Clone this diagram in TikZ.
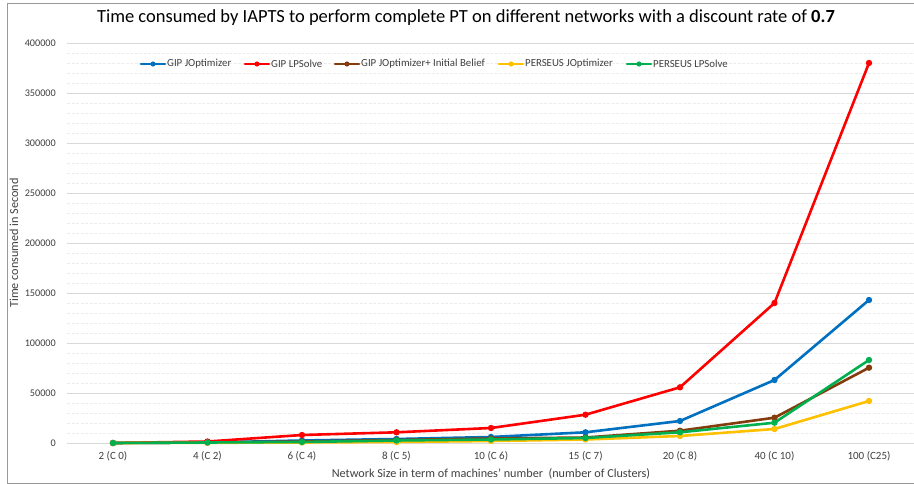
\documentclass[tikz,border=0pt]{standalone}
\usepackage{fontspec}
\setmainfont{Carlito}
\definecolor{sblue}{HTML}{0070C0}
\definecolor{sred}{HTML}{FF0000}
\definecolor{sbrown}{HTML}{843C0C}
\definecolor{syellow}{HTML}{FFC000}
\definecolor{sgreen}{HTML}{00B050}
\definecolor{gridmaj}{HTML}{D9D9D9}
\definecolor{gridmin}{HTML}{EDEDED}
\definecolor{txt}{HTML}{404040}
\tikzset{
  series/.style={line width=2.6pt, line join=round, line cap=round},
  majorgrid/.style={draw=gridmaj, line width=0.8pt},
  minorgrid/.style={draw=gridmin, line width=0.7pt, dash pattern=on 3pt off 1.5pt},
  yticklbl/.style={font=\fontsize{10.2}{11}\selectfont, text=txt, inner sep=0pt},
  xticklbl/.style={font=\fontsize{11}{12}\selectfont, text=txt, inner sep=0pt},
  axistitle/.style={font=\fontsize{12.2}{13}\selectfont, text=txt, inner sep=0pt},
  legendlbl/.style={font=\fontsize{10.8}{12}\selectfont, text=txt, inner sep=0pt, anchor=west},
}
% series values in thousands of seconds, one per network size
\def\dataBlue{0,0.5,2.5,4,6,10.7,22,63,143}
\def\dataRed{0,1.5,8,10.7,15,28.3,55.7,140,380}
\def\dataBrown{0,0.5,1.5,3,4.5,5.5,12.3,25.3,75.3}
\def\dataYellow{0,0.2,0.5,1,2,3.5,7,14,42}
\def\dataGreen{0,0.5,1,2.5,3.5,5,10.7,20.3,83}
\newcommand{\plotseries}[2]{%
  \foreach \v [count=\i from 0] in #2 {
    \coordinate (#1-\i) at ({113+\i*94.5},{443-\v});
  }
  \draw[series, draw=#1] (#1-0) -- (#1-1) -- (#1-2) -- (#1-3) -- (#1-4)
     -- (#1-5) -- (#1-6) -- (#1-7) -- (#1-8);
  \foreach \i in {0,...,8} { \fill[#1] (#1-\i) circle (3.2pt); }
}
\begin{document}
\begin{tikzpicture}[x=1pt,y=-1pt]
\useasboundingbox (0,0) rectangle (914,484);
\fill[white] (0,0) rectangle (914,484);
% chart frame
\draw[draw=gray!80, line width=1pt] (7,4) rectangle (920,483);

% gridlines
\foreach \k in {0,...,40} {
  \pgfmathtruncatemacro{\m}{mod(\k,5)}
  \ifnum\m=0
    \draw[majorgrid] (67,{443-\k*10}) -- (914,{443-\k*10});
  \else
    \draw[minorgrid] (67,{443-\k*10}) -- (914,{443-\k*10});
  \fi
}
% y tick labels (position in thousands / label)
\foreach \k/\v in {0/0,50/50000,100/100000,150/150000,200/200000,250/250000,300/300000,350/350000,400/400000} {
  \node[yticklbl, anchor=east] (yt\k) at (56,{443-\k}) {\v};
}
% x tick labels
\foreach \lbl [count=\i from 0] in {2 (C 0),4 (C 2),6 (C 4),8 (C 5),10 (C 6),15 (C 7),20 (C 8),40 (C 10),100 (C25)} {
  \node[xticklbl] (xt\i) at ({113+\i*94.5},456) {\lbl};
}

% axis titles and chart title
\node[axistitle] (xtitle) at (491,474) {Network Size in term of machines' number\ \ (number of Clusters)};
\node[axistitle, rotate=90] (ytitle) at (14,243) {Time consumed in Second};
\node[inner sep=0pt, font=\fontsize{18.5}{20}\selectfont, text=black] (title) at (466,18)
  {Time consumed by IAPTS to perform complete PT on different networks with a discount rate of \textbf{0.7}};

% data series
\plotseries{sblue}{\dataBlue}
\plotseries{sred}{\dataRed}
\plotseries{sbrown}{\dataBrown}
\plotseries{syellow}{\dataYellow}
\plotseries{sgreen}{\dataGreen}

% legend
\foreach \col/\xs/\lbl in {sblue/141/GIP JOptimizer, sred/245/GIP LPSolve, sbrown/335/GIP JOptimizer+ Initial Belief, syellow/499/PERSEUS JOptimizer, sgreen/627/PERSEUS LPSolve} {
  \coordinate (lg-\col-a) at (\xs,64);
  \coordinate (lg-\col-m) at (\xs+12,64);
  \coordinate (lg-\col-b) at (\xs+24,64);
  \draw[series, draw=\col] (lg-\col-a) -- (lg-\col-b);
  \fill[\col] (lg-\col-m) circle (2.6pt);
  \node[legendlbl] (lg-\col) at (\xs+26,64) {\lbl};
}
\end{tikzpicture}
\end{document}
